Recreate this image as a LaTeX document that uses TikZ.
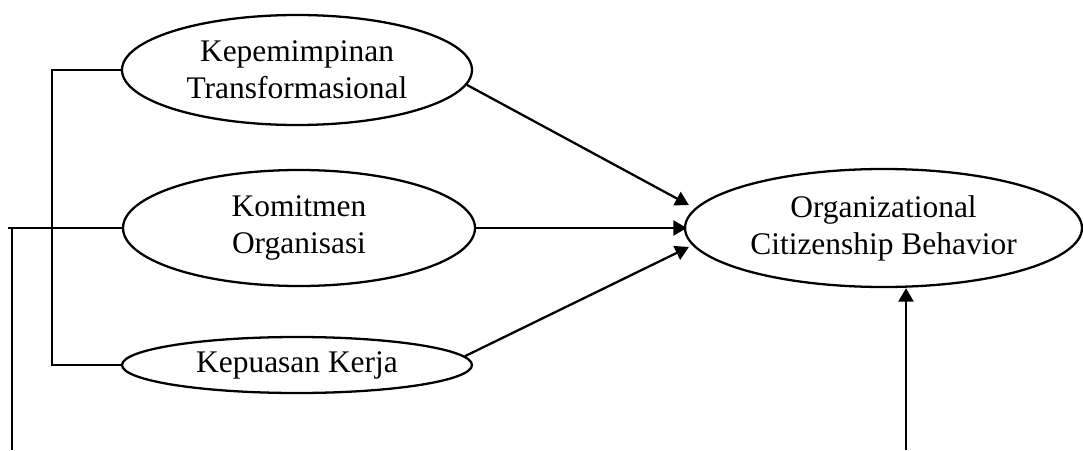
\documentclass[tikz,border=0pt]{standalone}
\usepackage{fontspec}
\setmainfont{Liberation Serif}
\usetikzlibrary{arrows.meta, shapes.geometric}

\begin{document}
\begin{tikzpicture}[
            > = {Triangle[length=0.27cm, width=0.3cm]}, % arrow head style
            line width = 1.3pt, % line style
            font = \fontsize{17.9}{21}\selectfont
        ]

        \tikzstyle{latent}=[
            ellipse,
            draw = black,
            inner sep = 0pt,
            align = center
        ]

        \useasboundingbox (0,0) rectangle (21.66,9);

        \node[latent, minimum width=7cm, minimum height=2.2cm] (kt) at (5.94,7.6) {Kepemimpinan\\Transformasional};
        \node[latent, minimum width=7.04cm, minimum height=2.32cm] (ko) at (5.98,4.44) {Komitmen\\Organisasi};
        \node[latent, minimum width=7cm, minimum height=1.12cm] (kk) at (5.94,1.7) {Kepuasan Kerja};

        \node[latent, minimum width=7.94cm, minimum height=2.36cm] (ocb) at (17.67,4.44) {Organizational\\Citizenship Behavior};

        % bracket on the left
        \coordinate (bar) at (1.04,4.44);
        \coordinate (tail) at (0.16,4.44);
        \coordinate (down) at (0.24,4.42);
        \coordinate (foot) at (0.24,0);
        \draw (kt.west) -- (kt.west -| bar) -- (kk.west -| bar) -- (kk.west);
        \draw (ko.west) -- (tail);
        \draw (down) -- (foot);

        \path[->] (kt.-5) edge ([xshift=0.1cm, yshift=0.46cm]ocb.west);
        \path[->] (ko.east) edge ([xshift=0.06cm]ko.east -| ocb.west);
        \path[->] (kk.3) edge ([xshift=0.1cm, yshift=-0.38cm]ocb.west);

        \coordinate (up) at (18.12,0);
        \path[->] (up) edge (up |- ocb.south);
    \end{tikzpicture}
\end{document}
